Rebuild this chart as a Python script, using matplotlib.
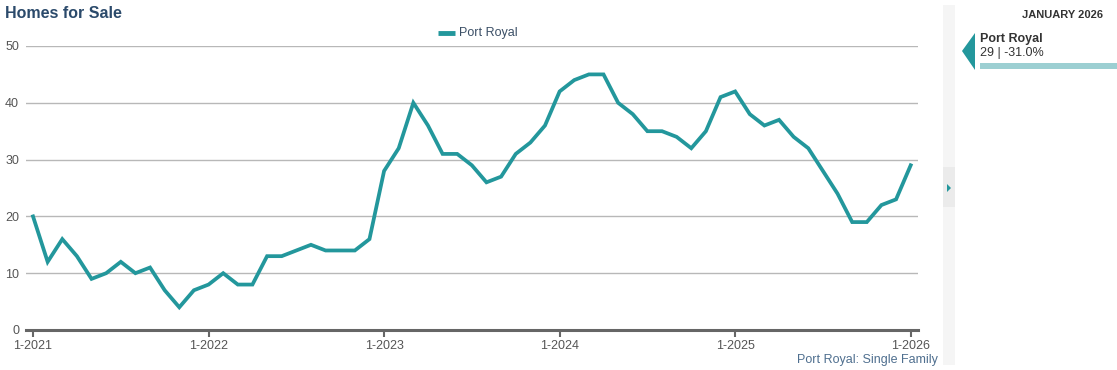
import numpy as np
import matplotlib.pyplot as plt
from matplotlib.patches import Polygon, Rectangle

plt.rcParams['font.family'] = ['Liberation Sans', 'DejaVu Sans']

# Homes for sale, Port Royal, monthly 1-2021 .. 1-2026
homes = [20, 12, 16, 13, 9, 10, 12, 10, 11, 7, 4, 7,
         8, 10, 8, 8, 13, 13, 14, 15, 14, 14, 14, 16,
         28, 32, 40, 36, 31, 31, 29, 26, 27, 31, 33, 36,
         42, 44, 45, 45, 40, 38, 35, 35, 34, 32, 35, 41,
         42, 38, 36, 37, 34, 32, 28, 24, 19, 19, 22, 23,
         29]
year_labels = ["1-2021", "1-2022", "1-2023", "1-2024", "1-2025", "1-2026"]
y_ticks = [0, 10, 20, 30, 40, 50]

teal = "#23979c"
W, H = 1117, 370
fig = plt.figure(figsize=(W / 100, H / 100), dpi=100)

ax = fig.add_axes([26 / W, 1 - 330 / H, (918 - 26) / W, (330 - 46) / H])
months = np.arange(len(homes))
ax.plot(months, homes, color=teal, lw=2.7, solid_joinstyle="miter", clip_on=False, zorder=3)
ax.set_xlim(-0.48, 60.5)
ax.set_ylim(0, 50)
ax.set_yticks(y_ticks)
ax.grid(axis="y", color="#b8b8b8", lw=1)
ax.set_axisbelow(True)
for s in ["top", "right", "left"]:
    ax.spines[s].set_visible(False)
ax.spines["bottom"].set_color("#666666")
ax.spines["bottom"].set_linewidth(2.2)
ax.set_xticks(np.arange(0, 61, 12))
ax.set_xticklabels(year_labels)
ax.tick_params(axis="x", colors="#666666", length=5, width=1.5, direction="out",
               labelsize=9, labelcolor="#555555", pad=2)
ax.tick_params(axis="y", length=0, labelsize=9, labelcolor="#555555", pad=5)

# title and legend
fig.text(5 / W, 1 - 13 / H, "Homes for Sale", fontsize=11.5, fontweight="bold",
         color="#2b4a6b", va="center", ha="left")
fig.add_artist(plt.Line2D([438 / W, 455 / W], [1 - 33 / H, 1 - 33 / H], color=teal, lw=3.5,
                          solid_capstyle="butt"))
fig.text(459 / W, 1 - 33 / H, "Port Royal", fontsize=9, color="#3b4f66", va="center")
fig.text(938 / W, 1 - 360 / H, "Port Royal: Single Family", fontsize=9,
         color="#4f6f8f", va="center", ha="right")

# side panel
fig.add_artist(Rectangle((943 / W, 1 - 365 / H), 12 / W, 360 / H, color="#f5f5f5", lw=0))
fig.add_artist(Rectangle((943 / W, 1 - 207 / H), 12 / W, 40 / H, color="#ebebeb", lw=0))
fig.add_artist(Polygon([(947 / W, 1 - 184 / H), (947 / W, 1 - 192 / H), (951 / W, 1 - 188 / H)],
                       closed=True, color=teal, lw=0))
fig.text(1103 / W, 1 - 15 / H, "JANUARY 2026", fontsize=8, fontweight="bold",
         color="#333333", ha="right", va="center")
fig.add_artist(Polygon([(975 / W, 1 - 33 / H), (962 / W, 1 - 51 / H), (975 / W, 1 - 70 / H)],
                       closed=True, color=teal, lw=0))
fig.text(980 / W, 1 - 39 / H, "Port Royal", fontsize=9, fontweight="bold",
         color="#333333", ha="left", va="center")
fig.text(980 / W, 1 - 53 / H, "29 | -31.0%", fontsize=9,
         color="#333333", ha="left", va="center")
fig.add_artist(Rectangle((980 / W, 1 - 69 / H), 137 / W, 6 / H, color="#9ccfd2", lw=0))

fig.savefig("out.png", dpi=100)
